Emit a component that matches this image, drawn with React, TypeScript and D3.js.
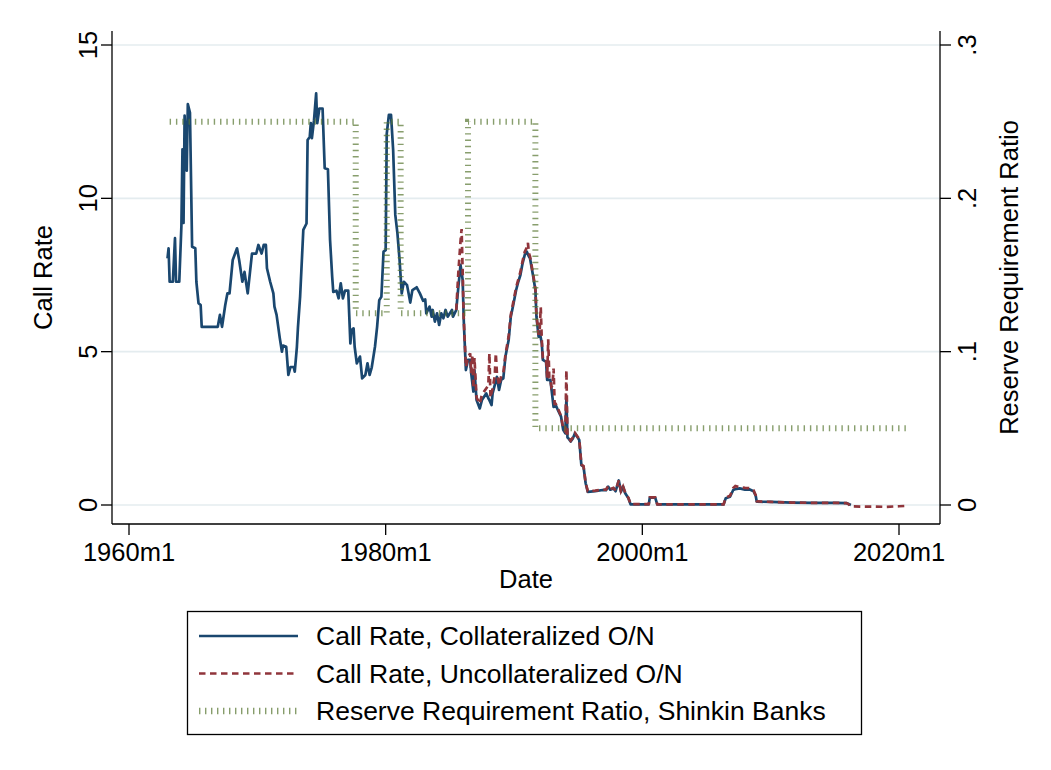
import React from "react";
import * as d3 from "d3";

// Monthly call rates (percent), collateralized overnight
const collateralized: [string, number][] = [
  ["1963-01", 8.04], ["1963-02", 8.37], ["1963-03", 7.28], ["1963-06", 7.28], ["1963-08", 8.7],
  ["1963-09", 7.28], ["1963-12", 7.28], ["1964-02", 9.1], ["1964-03", 11.6], ["1964-04", 9.2],
  ["1964-05", 12.7], ["1964-07", 10.9], ["1964-08", 13.07], ["1964-10", 12.8], ["1964-12", 8.42],
  ["1965-03", 8.37], ["1965-04", 7.28], ["1965-06", 6.58], ["1965-08", 6.52], ["1965-09", 5.81],
  ["1966-12", 5.81], ["1967-02", 6.2], ["1967-04", 5.81], ["1967-07", 6.52], ["1967-09", 6.9],
  ["1967-11", 6.9], ["1968-02", 7.99], ["1968-06", 8.37], ["1968-08", 7.99], ["1968-11", 7.28],
  ["1969-01", 7.6], ["1969-04", 6.9], ["1969-08", 8.2], ["1969-12", 8.2], ["1970-02", 8.48],
  ["1970-05", 8.2], ["1970-07", 8.48], ["1970-09", 8.48], ["1970-10", 7.72], ["1971-01", 7.28],
  ["1971-04", 6.9], ["1971-05", 6.47], ["1971-07", 6.2], ["1971-10", 5.44], ["1971-12", 5.0],
  ["1972-01", 5.2], ["1972-04", 5.16], ["1972-06", 4.24], ["1972-08", 4.5], ["1972-11", 4.5],
  ["1972-12", 4.35], ["1973-02", 5.16], ["1973-03", 5.8], ["1973-05", 6.79], ["1973-08", 8.97],
  ["1973-11", 9.18], ["1973-12", 11.9], ["1974-02", 12.0], ["1974-03", 12.45], ["1974-04", 11.96],
  ["1974-06", 12.55], ["1974-08", 13.42], ["1974-09", 12.45], ["1974-11", 12.93], ["1975-02", 12.93],
  ["1975-04", 10.98], ["1975-07", 10.95], ["1975-09", 8.64], ["1975-11", 7.44], ["1975-12", 6.95],
  ["1976-03", 6.99], ["1976-05", 6.74], ["1976-07", 7.23], ["1976-09", 6.74], ["1976-11", 6.99],
  ["1977-02", 6.99], ["1977-04", 5.27], ["1977-05", 5.7], ["1977-07", 5.76], ["1977-08", 5.16],
  ["1977-10", 4.62], ["1978-01", 4.84], ["1978-03", 4.13], ["1978-06", 4.24], ["1978-08", 4.62],
  ["1978-10", 4.24], ["1978-12", 4.49], ["1979-03", 5.16], ["1979-05", 5.81], ["1979-07", 6.68],
  ["1979-09", 6.79], ["1979-11", 8.26], ["1980-01", 8.31], ["1980-02", 12.1], ["1980-04", 12.72],
  ["1980-06", 12.72], ["1980-08", 11.57], ["1980-10", 9.46], ["1980-12", 8.86], ["1981-02", 7.99],
  ["1981-04", 6.9], ["1981-06", 7.28], ["1981-09", 7.17], ["1981-12", 6.6], ["1982-02", 7.01],
  ["1982-06", 7.1], ["1982-09", 6.9], ["1982-12", 6.66], ["1983-02", 6.7], ["1983-03", 6.25],
  ["1983-06", 6.47], ["1983-08", 6.14], ["1983-09", 6.36], ["1983-11", 5.98], ["1984-01", 6.25],
  ["1984-03", 5.87], ["1984-05", 6.25], ["1984-07", 6.09], ["1984-09", 6.36], ["1984-11", 6.14],
  ["1985-03", 6.36], ["1985-04", 6.14], ["1985-07", 6.36], ["1985-09", 7.12], ["1985-11", 7.83],
  ["1986-01", 7.34], ["1986-02", 6.03], ["1986-04", 4.4], ["1986-06", 4.73], ["1986-08", 4.73],
  ["1986-09", 4.29], ["1986-11", 3.7], ["1986-12", 4.4], ["1987-02", 3.42], ["1987-05", 3.15],
  ["1987-07", 3.42], ["1987-09", 3.53], ["1987-11", 3.64], ["1988-01", 3.48], ["1988-02", 3.42],
  ["1988-04", 3.26], ["1988-05", 3.64], ["1988-07", 3.91], ["1988-09", 4.18], ["1988-11", 3.75],
  ["1989-01", 4.08], ["1989-03", 4.13], ["1989-05", 4.84], ["1989-08", 5.38], ["1989-10", 6.14],
  ["1989-12", 6.47], ["1990-03", 7.01], ["1990-05", 7.28], ["1990-07", 7.5], ["1990-09", 7.88],
  ["1990-11", 8.15], ["1991-01", 8.26], ["1991-03", 8.1], ["1991-04", 8.04], ["1991-07", 7.44],
  ["1991-09", 7.01], ["1991-10", 6.14], ["1991-12", 5.49], ["1992-01", 5.65], ["1992-03", 5.27],
  ["1992-04", 4.73], ["1992-07", 4.67], ["1992-08", 4.08], ["1992-11", 4.08], ["1992-12", 3.8],
  ["1993-02", 3.2], ["1993-04", 3.26], ["1993-06", 3.1], ["1993-09", 2.88], ["1993-11", 2.45],
  ["1994-01", 2.34], ["1994-02", 3.5], ["1994-03", 2.2], ["1994-04", 2.17], ["1994-06", 2.07],
  ["1994-08", 2.17], ["1994-10", 2.34], ["1994-12", 2.23], ["1995-02", 2.12], ["1995-04", 1.3],
  ["1995-06", 1.25], ["1995-08", 0.71], ["1995-10", 0.43], ["1996-05", 0.45], ["1996-12", 0.49],
  ["1997-03", 0.48], ["1997-05", 0.6], ["1997-07", 0.5], ["1997-10", 0.54], ["1997-12", 0.45],
  ["1998-01", 0.57], ["1998-03", 0.8], ["1998-05", 0.43], ["1998-07", 0.6], ["1998-09", 0.38],
  ["1998-12", 0.22], ["1999-02", 0.02], ["2000-07", 0.02], ["2000-08", 0.24], ["2001-01", 0.24],
  ["2001-03", 0.02], ["2006-05", 0.02], ["2006-07", 0.22], ["2006-11", 0.27], ["2007-02", 0.49],
  ["2007-04", 0.52], ["2007-08", 0.54], ["2008-01", 0.5], ["2008-05", 0.51], ["2008-09", 0.45],
  ["2008-11", 0.3], ["2008-12", 0.11], ["2010-01", 0.1], ["2011-09", 0.08], ["2013-05", 0.07],
  ["2015-01", 0.07], ["2015-12", 0.06], ["2016-02", 0.03], ["2016-04", 0.0],
];

// Monthly call rates (percent), uncollateralized overnight
const uncollateralized: [string, number][] = [
  ["1985-07", 6.36], ["1985-09", 7.6], ["1985-11", 8.6], ["1985-12", 9.0], ["1986-01", 7.6],
  ["1986-02", 6.1], ["1986-04", 4.5], ["1986-06", 4.8], ["1986-08", 4.95], ["1986-09", 4.3],
  ["1986-10", 4.9], ["1986-11", 3.8], ["1986-12", 4.8], ["1987-02", 3.5], ["1987-05", 3.3],
  ["1987-07", 3.6], ["1987-09", 3.7], ["1987-11", 3.8], ["1988-01", 3.9], ["1988-02", 4.95],
  ["1988-03", 3.5], ["1988-05", 3.8], ["1988-07", 4.2], ["1988-08", 4.95], ["1988-09", 4.3],
  ["1988-11", 3.9], ["1989-01", 4.2], ["1989-03", 4.3], ["1989-05", 4.9], ["1989-08", 5.5],
  ["1989-10", 6.2], ["1989-12", 6.55], ["1990-03", 7.1], ["1990-05", 7.35], ["1990-07", 7.6],
  ["1990-09", 7.95], ["1990-11", 8.25], ["1991-01", 8.4], ["1991-02", 8.55], ["1991-03", 8.2],
  ["1991-04", 8.1], ["1991-07", 7.5], ["1991-09", 7.05], ["1991-10", 6.2], ["1991-12", 5.55],
  ["1992-01", 5.7], ["1992-02", 6.45], ["1992-03", 5.35], ["1992-04", 4.8], ["1992-07", 4.75],
  ["1992-08", 4.15], ["1992-09", 5.4], ["1992-10", 4.15], ["1992-11", 4.1], ["1992-12", 3.85],
  ["1993-01", 3.9], ["1993-02", 4.45], ["1993-03", 3.3], ["1993-04", 3.3], ["1993-06", 3.15],
  ["1993-09", 2.9], ["1993-11", 2.5], ["1994-01", 2.4], ["1994-02", 4.4], ["1994-03", 2.25],
  ["1994-04", 2.2], ["1994-06", 2.1], ["1994-08", 2.2], ["1994-10", 2.35], ["1994-12", 2.25],
  ["1995-02", 2.15], ["1995-04", 1.32], ["1995-06", 1.27], ["1995-08", 0.72], ["1995-10", 0.45],
  ["1996-05", 0.47], ["1996-12", 0.5], ["1997-03", 0.5], ["1997-05", 0.62], ["1997-07", 0.52],
  ["1997-10", 0.56], ["1997-12", 0.47], ["1998-01", 0.58], ["1998-03", 0.8], ["1998-05", 0.45],
  ["1998-07", 0.6], ["1998-09", 0.4], ["1998-12", 0.23], ["1999-02", 0.03], ["2000-07", 0.03],
  ["2000-08", 0.25], ["2001-01", 0.25], ["2001-03", 0.02], ["2006-05", 0.02], ["2006-07", 0.24],
  ["2006-11", 0.3], ["2007-02", 0.55], ["2007-04", 0.62], ["2007-08", 0.58], ["2008-01", 0.56],
  ["2008-05", 0.55], ["2008-09", 0.48], ["2008-11", 0.32], ["2008-12", 0.12], ["2010-01", 0.1],
  ["2011-09", 0.08], ["2013-05", 0.07], ["2015-01", 0.07], ["2015-12", 0.06], ["2016-02", 0.02],
  ["2016-04", -0.04], ["2017-01", -0.05], ["2018-01", -0.05], ["2019-01", -0.06], ["2020-01", -0.04],
  ["2020-08", -0.03],
];

// Reserve requirement ratio for Shinkin banks: [start month, ratio]
const reserveRatio: [string, number][] = [
  ["1963-03", 0.25], ["1977-09", 0.125], ["1980-02", 0.25], ["1981-03", 0.125],
  ["1986-06", 0.25], ["1991-09", 0.05], ["2020-09", 0.05],
];

const leftTicks = [0, 5, 10, 15];
const rightTicks = [0, 0.1, 0.2, 0.3];
const rightTickLabels = ["0", ".1", ".2", ".3"];
const xTickMonths = ["1960-01", "1980-01", "2000-01", "2020-01"];
const xTickLabels = ["1960m1", "1980m1", "2000m1", "2020m1"];
const legendLabels = [
  "Call Rate, Collateralized O/N",
  "Call Rate, Uncollateralized O/N",
  "Reserve Requirement Ratio, Shinkin Banks",
];

const NAVY = "#1a476f";
const MAROON = "#90353b";
const GREEN = "#55752f";
const GRID = "#e4ecef";
const FONT = "'Liberation Sans', Arial, Helvetica, sans-serif";

const W = 1051;
const H = 770;
const plot = { left: 112, right: 940, top: 31, bottom: 524 };

function monthIndex(s: string): number {
  const [y, m] = s.split("-").map(Number);
  return (y - 1960) * 12 + (m - 1);
}

export default function App() {
  const x = d3.scaleLinear().domain([0, 720]).range([129, 899]);
  const yL = d3.scaleLinear().domain([0, 15]).range([505, 45]);
  const yR = d3.scaleLinear().domain([0, 0.3]).range([505, 45]);

  const rateLine = d3
    .line<[string, number]>()
    .x((d) => x(monthIndex(d[0])))
    .y((d) => yL(d[1]));

  const ratioLine = d3
    .line<[string, number]>()
    .x((d) => x(monthIndex(d[0])))
    .y((d) => yR(d[1]))
    .curve(d3.curveStepAfter);

  const legendX0 = 199;
  const legendX1 = 298;
  const legendRows = [636, 673.5, 711];

  return (
    <svg
      width={W}
      height={H}
      style={{ position: "absolute", left: 0, top: 0, background: "#fff" }}
      fontFamily={FONT}
    >
      <rect x={0} y={0} width={W} height={H} fill="#fff" />

      {/* gridlines */}
      {leftTicks.map((t) => (
        <line key={"g" + t} x1={plot.left} x2={plot.right} y1={yL(t)} y2={yL(t)} stroke={GRID} strokeWidth={1.6} />
      ))}

      {/* series */}
      <path d={rateLine(collateralized) || ""} fill="none" stroke={NAVY} strokeWidth={2.7} strokeLinejoin="round" />
      <path
        d={rateLine(uncollateralized) || ""}
        fill="none"
        stroke={MAROON}
        strokeWidth={2.7}
        strokeDasharray="6.5 4.5"
      />
      <path
        d={ratioLine(reserveRatio) || ""}
        fill="none"
        stroke={GREEN}
        strokeWidth={6}
        strokeDasharray="1.4 4.9"
        opacity={0.7}
      />

      {/* left axis */}
      <line x1={plot.left} x2={plot.left} y1={plot.top} y2={plot.bottom} stroke="#000" strokeWidth={1.3} />
      {leftTicks.map((t) => (
        <g key={"l" + t}>
          <line x1={plot.left - 11} x2={plot.left} y1={yL(t)} y2={yL(t)} stroke="#000" strokeWidth={1.3} />
          <text
            transform={`translate(97,${yL(t)}) rotate(-90)`}
            textAnchor="middle"
            fontSize={25.5}
            fill="#000"
          >
            {t}
          </text>
        </g>
      ))}
      <text transform={`translate(52,${(plot.top + plot.bottom) / 2}) rotate(-90)`} textAnchor="middle" fontSize={25.5}>
        Call Rate
      </text>

      {/* right axis */}
      <line x1={plot.right} x2={plot.right} y1={plot.top} y2={plot.bottom} stroke="#000" strokeWidth={1.3} />
      {rightTicks.map((t, i) => (
        <g key={"r" + t}>
          <line x1={plot.right} x2={plot.right + 11} y1={yR(t)} y2={yR(t)} stroke="#000" strokeWidth={1.3} />
          <text
            transform={`translate(976,${yR(t)}) rotate(-90)`}
            textAnchor="middle"
            fontSize={25.5}
            fill="#000"
          >
            {rightTickLabels[i]}
          </text>
        </g>
      ))}
      <text transform={`translate(1018,${(plot.top + plot.bottom) / 2}) rotate(-90)`} textAnchor="middle" fontSize={25.5}>
        Reserve Requirement Ratio
      </text>

      {/* bottom axis */}
      <line x1={plot.left} x2={plot.right} y1={plot.bottom} y2={plot.bottom} stroke="#000" strokeWidth={1.3} />
      {xTickMonths.map((m, i) => (
        <g key={"x" + m}>
          <line x1={x(monthIndex(m))} x2={x(monthIndex(m))} y1={plot.bottom} y2={plot.bottom + 11} stroke="#000" strokeWidth={1.3} />
          <text x={x(monthIndex(m))} y={561} textAnchor="middle" fontSize={25.5}>
            {xTickLabels[i]}
          </text>
        </g>
      ))}
      <text x={(plot.left + plot.right) / 2} y={588} textAnchor="middle" fontSize={25.5}>
        Date
      </text>

      {/* legend */}
      <rect x={187.5} y={611.5} width={674} height={123} fill="#fff" stroke="#000" strokeWidth={1.3} />
      <line x1={legendX0} x2={legendX1} y1={legendRows[0]} y2={legendRows[0]} stroke={NAVY} strokeWidth={2.7} />
      <line
        x1={legendX0}
        x2={legendX1}
        y1={legendRows[1]}
        y2={legendRows[1]}
        stroke={MAROON}
        strokeWidth={2.7}
        strokeDasharray="6.5 4.5"
      />
      <line
        x1={legendX0}
        x2={legendX1}
        y1={legendRows[2]}
        y2={legendRows[2]}
        stroke={GREEN}
        strokeWidth={6.5}
        strokeDasharray="1.4 4.6"
        opacity={0.7}
      />
      {legendLabels.map((s, i) => (
        <text key={s} x={316} y={legendRows[i] + 9} fontSize={26.5}>
          {s}
        </text>
      ))}
    </svg>
  );
}
